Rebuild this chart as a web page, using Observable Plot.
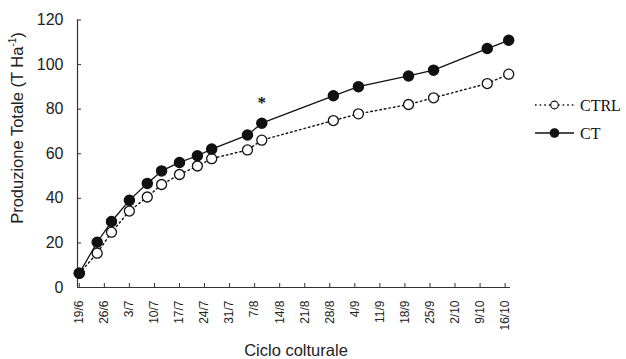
<!DOCTYPE html>
<html><head><meta charset="utf-8">
<script src="https://cdn.jsdelivr.net/npm/d3@7"></script>
<script src="https://cdn.jsdelivr.net/npm/@observablehq/plot@0.6"></script>
<style>body{margin:0;background:#fff} #chart{width:626px;height:359px}</style>
</head><body><div id="chart"></div>
<script>
// Sampling dates (day/month)
const dates = ["19/6","24/6","28/6","3/7","8/7","12/7","17/7","22/7","26/7","5/8","9/8","29/8","5/9","19/9","26/9","11/10","17/10"];
// Produzione Totale (T Ha-1)
const ct   = [6.4, 20.3, 29.6, 39.1, 46.7, 52.3, 56.1, 59.1, 62.1, 68.4, 73.7, 86.0, 90.1, 94.9, 97.5, 107.2, 110.9];
const ctrl = [6.4, 15.4, 24.8, 34.3, 40.6, 46.2, 50.7, 54.5, 57.8, 61.7, 66.1, 74.9, 77.9, 82.1, 85.1, 91.5, 95.7];
const tickLabels = ["19/6","26/6","3/7","10/7","17/7","24/7","31/7","7/8","14/8","21/8","28/8","4/9","11/9","18/9","25/9","2/10","9/10","16/10"];
const yTicks = [0, 20, 40, 60, 80, 100, 120];
const seriesNames = ["CTRL", "CT"];
const significant = [{date: "9/8", value: 83, label: "*"}];

const YEAR = 2012;
const parse = s => { const [d, m] = s.split("/").map(Number); return new Date(Date.UTC(YEAR, m - 1, d)); };
const ctData = dates.map((d, i) => ({date: parse(d), value: ct[i]}));
const ctrlData = dates.map((d, i) => ({date: parse(d), value: ctrl[i]}));
const tickDates = tickLabels.map(parse);
const xDomain = [new Date(Date.UTC(YEAR, 5, 18, 12)), new Date(Date.UTC(YEAR, 9, 17, 12))];
const fmt = d => `${d.getUTCDate()}/${d.getUTCMonth() + 1}`;

const chart = Plot.plot({
  width: 626, height: 359,
  marginLeft: 77, marginRight: 116, marginTop: 19.5, marginBottom: 72,
  style: {fontFamily: "'Liberation Sans', Arial, sans-serif", background: "#fff", color: "#222"},
  x: {type: "utc", domain: xDomain},
  y: {domain: [0, 120]},
  marks: [
    Plot.ruleY([0], {stroke: "#333", strokeWidth: 1.2}),
    Plot.ruleX([xDomain[0]], {stroke: "#333", strokeWidth: 1.2}),
    Plot.axisY({ticks: yTicks, tickSize: -4, tickPadding: 18, fontSize: 16, label: null, stroke: "#333"}),
    Plot.axisX({ticks: tickDates, tickFormat: fmt, tickRotate: -90, tickSize: -4, tickPadding: 17, fontSize: 12, label: null, stroke: "#333"}),
    Plot.line(ctrlData, {x: "date", y: "value", stroke: "#111", strokeWidth: 1.4, strokeDasharray: "1.6,3"}),
    Plot.dot(ctrlData, {x: "date", y: "value", r: 5, fill: "#fff", stroke: "#111", strokeWidth: 1.3}),
    Plot.line(ctData, {x: "date", y: "value", stroke: "#111", strokeWidth: 1.3}),
    Plot.dot(ctData, {x: "date", y: "value", r: 5, fill: "#111", stroke: "#111"}),
    Plot.text(significant, {x: d => parse(d.date), y: "value", text: "label", fontSize: 17, fontWeight: "bold", fontFamily: "'Liberation Serif', serif", fill: "#111"})
  ]
});
document.getElementById("chart").appendChild(chart);

const svg = d3.select(chart);
// Y axis title
const yt = svg.append("text")
  .attr("transform", "translate(23,128) rotate(-90)")
  .attr("text-anchor", "middle")
  .attr("font-size", 16.5).attr("fill", "#222")
  .attr("font-family", "'Liberation Sans', Arial, sans-serif");
yt.append("tspan").text("Produzione Totale (T Ha");
yt.append("tspan").attr("font-size", 10).attr("dy", -7).text("-1");
yt.append("tspan").attr("dy", 7).text(")");
// X axis title
svg.append("text").attr("x", 296).attr("y", 355.5).attr("text-anchor", "middle")
  .attr("font-size", 16.5).attr("fill", "#222")
  .attr("font-family", "'Liberation Sans', Arial, sans-serif").text("Ciclo colturale");
// Legend
const lg = svg.append("g").attr("font-family", "'Liberation Serif', 'Times New Roman', serif").attr("font-size", 16).attr("fill", "#111").attr("text-anchor", "start");
const rows = [
  {name: seriesNames[0], y: 105, dash: "1.6,3", fill: "#fff", r: 3.8},
  {name: seriesNames[1], y: 133, dash: null, fill: "#111", r: 4.2}
];
rows.forEach(r => {
  lg.append("line").attr("x1", 535).attr("x2", 574).attr("y1", r.y).attr("y2", r.y)
    .attr("stroke", "#111").attr("stroke-width", 1.3).attr("stroke-dasharray", r.dash);
  lg.append("circle").attr("cx", 554.5).attr("cy", r.y).attr("r", r.r)
    .attr("fill", r.fill).attr("stroke", "#111").attr("stroke-width", 1.2);
  lg.append("text").attr("x", 580).attr("y", r.y).attr("dy", "0.35em").attr("text-anchor", "start").text(r.name);
});
</script>
</body></html>
